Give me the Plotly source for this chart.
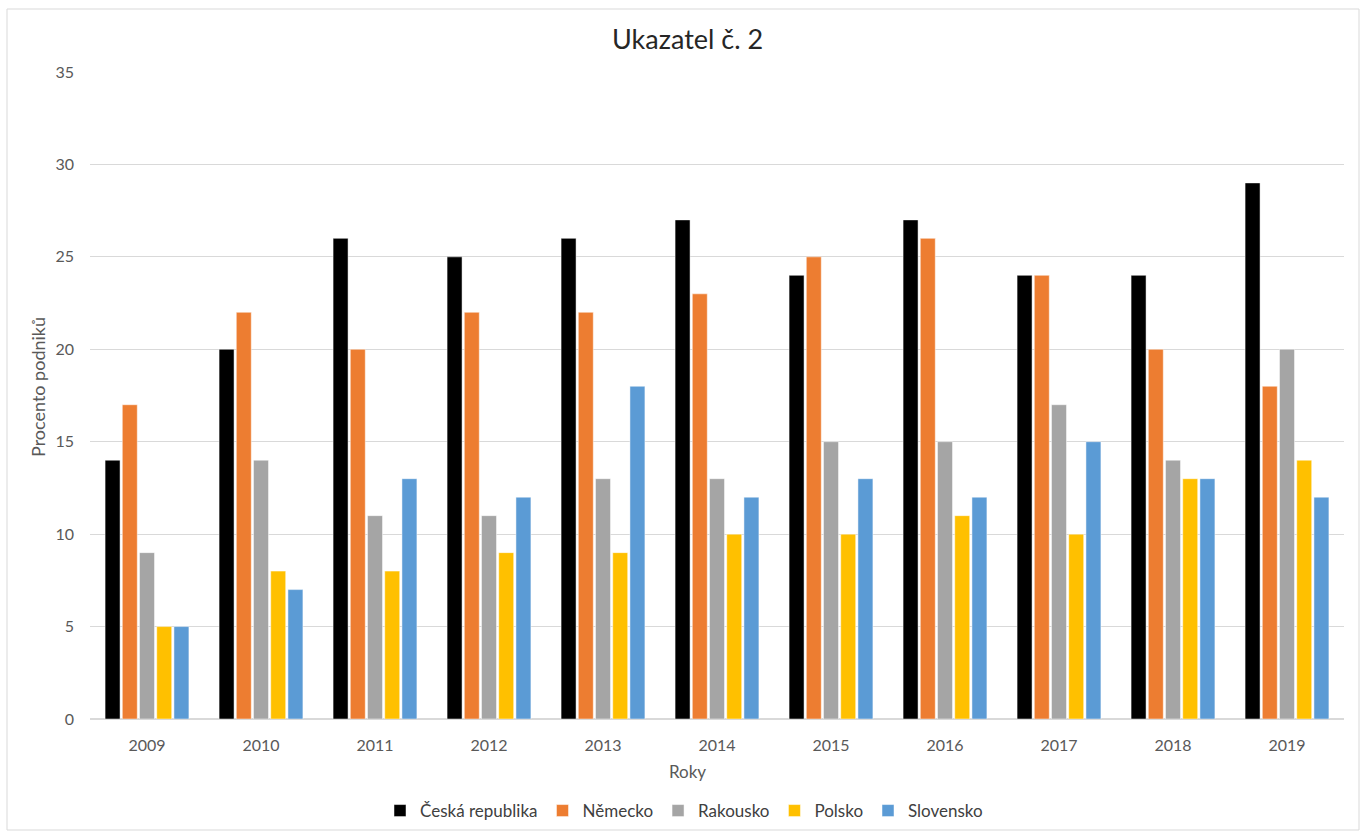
import plotly.graph_objects as go

# Roky a podíly podniků (%) podle zemí
years = ["2009", "2010", "2011", "2012", "2013", "2014", "2015", "2016", "2017", "2018", "2019"]
ceska_republika = [14, 20, 26, 25, 26, 27, 24, 27, 24, 24, 29]
nemecko = [17, 22, 20, 22, 22, 23, 25, 26, 24, 20, 18]
rakousko = [9, 14, 11, 11, 13, 13, 15, 15, 17, 14, 20]
polsko = [5, 8, 8, 9, 9, 10, 10, 11, 10, 13, 14]
slovensko = [5, 7, 13, 12, 18, 12, 13, 12, 15, 13, 12]

series = [
    ("Česká republika", ceska_republika, "#000000"),
    ("Německo", nemecko, "#ED7D31"),
    ("Rakousko", rakousko, "#A5A5A5"),
    ("Polsko", polsko, "#FFC000"),
    ("Slovensko", slovensko, "#5B9BD5"),
]

FONT = "Lato, Carlito, Calibri, sans-serif"
TEXT = "#595959"

fig = go.Figure()
for name, vals, color in series:
    fig.add_trace(go.Bar(
        x=years, y=vals, name=name,
        marker=dict(color=color, line=dict(color="rgba(255,255,255,0.6)", width=0.8)),
    ))

# plot area in pixels: x 90..1344, y 72..719
L, R, T, B = 90, 1344, 72, 719
W, H = 1368, 832
pw, ph = R - L, B - T

def px(x):
    return (x - L) / pw

def py(y):
    return (B - y) / ph

fig.update_layout(
    width=W, height=H,
    margin=dict(l=L, r=W - R, t=T, b=H - B, pad=0, autoexpand=False),
    paper_bgcolor="white", plot_bgcolor="white",
    barmode="group", bargap=0.245, bargroupgap=0.13,
    font=dict(family=FONT, size=16, color=TEXT),
    showlegend=True,
    legend=dict(
        orientation="h", x=0.5, xanchor="center", xref="container",
        y=1 - 811 / H, yanchor="middle", yref="container",
        font=dict(family=FONT, size=17, color="#404040"),
        itemwidth=30, traceorder="normal", itemclick=False,
    ),
    xaxis=dict(
        type="category", showgrid=False, showline=True, linecolor="#d9d9d9",
        linewidth=1, ticks="", tickfont=dict(size=16, color=TEXT), zeroline=False,
        ticklabelstandoff=12, automargin=False,
    ),
    yaxis=dict(
        range=[0, 35], dtick=5, showgrid=True, gridcolor="#d9d9d9", gridwidth=1,
        zeroline=True, zerolinecolor="#d9d9d9", showline=False, ticks="",
        ticklabelstandoff=15, tickfont=dict(size=16, color=TEXT), automargin=False,
    ),
    annotations=[
        dict(text="Ukazatel č. 2", x=px(687), xref="paper", y=py(38), yref="paper",
             showarrow=False, font=dict(family=FONT, size=27, color="#262626"),
             xanchor="center", yanchor="middle"),
        dict(text="Roky", x=px(687), xref="paper", y=py(771), yref="paper",
             showarrow=False, font=dict(family=FONT, size=17, color=TEXT),
             xanchor="center", yanchor="middle"),
        dict(text="Procento podniků", x=px(38), xref="paper", y=py(387), yref="paper",
             showarrow=False, textangle=-90, font=dict(family=FONT, size=18, color=TEXT),
             xanchor="center", yanchor="middle"),
    ],
    shapes=[
        dict(type="rect", xref="paper", yref="paper",
             x0=px(7), x1=px(1359), y0=py(830), y1=py(9),
             line=dict(color="#d9d9d9", width=1), fillcolor="rgba(0,0,0,0)", layer="below"),
    ],
)

fig.write_html("out.html")
